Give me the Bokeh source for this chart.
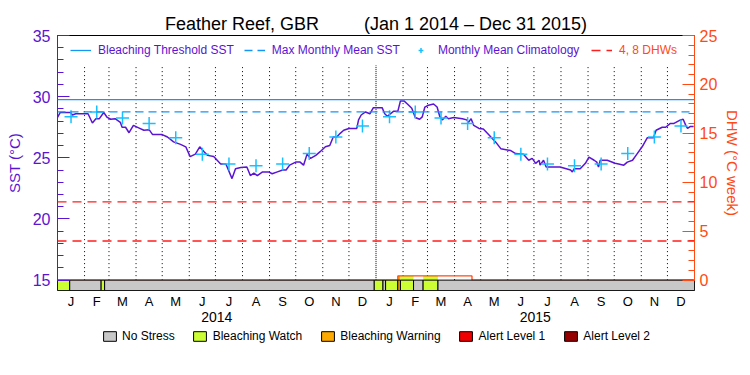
import numpy as np
import pandas as pd
from bokeh.plotting import figure
from bokeh.layouts import column
from bokeh.models import (Range1d, LinearAxis, FixedTicker, SingleIntervalTicker,
                          Span, Legend, LegendItem)
from bokeh.embed import file_html
from bokeh.resources import INLINE

# ---------------- data ----------------
sst_days = [0, 3, 15, 17, 21, 35, 40, 44, 48, 53, 57, 61, 66, 72, 74, 78, 82, 87, 93, 99,
            105, 109, 120, 126, 133, 141, 147, 152, 158, 163, 168, 172, 179, 187, 193, 200,
            204, 210, 217, 221, 225, 229, 235, 242, 246, 252, 258, 262, 266, 273, 278, 282,
            286, 290, 296, 301, 307, 312, 316, 320, 324, 328, 334, 343, 345, 348, 353, 358,
            362, 372, 375, 378, 385, 390, 393, 397, 401, 406, 410, 415, 418, 421, 425, 431,
            435, 438, 441, 445, 448, 454, 464, 469, 471, 474, 477, 483, 488, 494, 502, 508,
            519, 525, 534, 540, 544, 548, 552, 553, 557, 560, 576, 588, 590, 592, 599, 605,
            609, 615, 618, 620, 622, 630, 639, 643, 649, 653, 659, 664, 670, 676, 683, 686,
            693, 697, 702, 706, 714, 717, 720, 722, 725, 729]
sst_values = [28.3, 28.7, 28.7, 28.5, 28.6, 28.6, 27.85, 28.2, 28.2, 28.7, 28.3, 28.15, 28.2,
              27.9, 27.5, 27.5, 27.05, 27.65, 27.45, 27.25, 27.3, 26.9, 26.9, 26.7, 26.3, 26.1,
              25.9, 25.1, 25.3, 25.9, 25.5, 25.2, 25.1, 24.5, 24.5, 23.3, 24.1, 24.2, 24.25,
              23.55, 23.75, 23.55, 23.85, 23.85, 23.7, 23.85, 24.0, 24.0, 24.4, 24.65, 24.65,
              24.4, 25.3, 24.95, 25.2, 25.5, 25.9, 26.0, 26.7, 26.7, 27.0, 27.25, 27.4, 27.4,
              28.1, 28.5, 28.75, 28.6, 29.1, 29.1, 28.6, 28.4, 28.8, 28.8, 29.65, 29.65, 29.4,
              29.05, 28.3, 28.15, 28.35, 29.15, 29.3, 29.4, 29.15, 28.4, 28.1, 28.4, 28.2, 28.3,
              28.2, 28.1, 27.9, 28.2, 27.65, 27.4, 27.35, 26.9, 26.3, 25.75, 25.6, 25.35, 25.3,
              24.8, 24.95, 24.55, 24.8, 24.4, 24.8, 24.25, 24.25, 24.0, 23.85, 24.1, 24.1, 24.55,
              25.05, 24.8, 24.65, 24.25, 24.8, 24.8, 24.55, 24.5, 24.4, 24.65, 24.8, 25.3, 25.9,
              26.65, 26.65, 27.25, 27.5, 27.5, 27.8, 27.8, 28.1, 28.15, 27.65, 27.4, 27.55, 27.55]
clim_monthly = [28.35, 28.75, 28.25, 27.8, 26.65, 25.3, 24.5, 24.35, 24.5, 25.35, 26.7, 27.6]
mmm_sst = 28.75
bleaching_threshold = 29.75
dhw_thresholds = [4, 8]
dhw_days = [0, 390, 475, 729]
dhw_values = [0.0, 0.43, 0.0, 0.0]
stress_start = [0, 14, 50, 54, 363, 373, 376, 390, 393, 408, 419, 436]
stress_end = [14, 50, 54, 363, 373, 376, 390, 393, 408, 419, 436, 730]
stress_level = [1, 0, 1, 0, 1, 0, 1, 2, 1, 0, 1, 0]
stress_names = ["No Stress", "Bleaching Watch", "Bleaching Warning", "Alert Level 1", "Alert Level 2"]
stress_colors = ["#c8c8c8", "#ccff33", "#ffaa00", "#f00000", "#960000"]
month_letters = ["J", "F", "M", "A", "M", "J", "J", "A", "S", "O", "N", "D"]
year_labels = ["2014", "2015"]

# ---------------- styles ----------------
FONT = "Liberation Sans"
PURPLE = "#5a14d2"
ORANGE = "#ff4a14"
BLUE = "#1496f5"
CYAN = "#18c0ff"
RED = "#ff1e1e"
NAN1 = [np.nan]

base = pd.Timestamp("2014-01-01")
mstarts = pd.date_range("2014-01-01", "2016-01-01", freq="MS")
mdays = np.array([(d - base).days for d in mstarts], dtype=float)
mid_days = list((mdays[:-1] + mdays[1:]) / 2.0)
boundaries = list(mdays[1:-1])
ystarts = [(pd.Timestamp(f"{y}-01-01") - base).days for y in (2014, 2015, 2016)]
year_mid = [(ystarts[i] + ystarts[i + 1]) / 2.0 for i in range(2)]
year_boundary = float(ystarts[1])

DHW_BOTTOM = -1.06
SST_PER_DHW = 0.8
p = figure(width=750, height=328, output_backend="svg", toolbar_location=None,
           x_range=Range1d(0, 730), y_range=Range1d(15 + DHW_BOTTOM * SST_PER_DHW, 35),
           x_axis_location=None, y_axis_location=None,
           min_border_left=57, min_border_right=56, min_border_top=35, min_border_bottom=38)
p.extra_y_ranges = {"dhw": Range1d(DHW_BOTTOM, 25)}
p.xgrid.visible = False
p.ygrid.visible = False
p.outline_line_color = "black"
p.outline_line_width = 1
p.background_fill_color = "white"
p.border_fill_color = "white"

p.title.text = "Feather Reef, GBR" + "\u00a0" * 9 + "(Jan 1 2014 \u2013 Dec 31 2015)"
p.title.align = "center"
p.title.text_font = FONT
p.title.text_font_size = "18px"
p.title.text_font_style = "normal"
p.title.text_color = "black"
p.title.standoff = 4

# axes
yl = LinearAxis(bounds=(15, 35), ticker=SingleIntervalTicker(interval=5, num_minor_ticks=5),
                axis_label="SST (\u00b0C)")
yr = LinearAxis(y_range_name="dhw", bounds=(0, 25),
                ticker=SingleIntervalTicker(interval=5, num_minor_ticks=5),
                axis_label="DHW (\u00b0C week)")
for ax, col, so, lso in ((yl, PURPLE, 7, 7), (yr, ORANGE, 5, 4)):
    ax.axis_line_color = col
    ax.major_tick_line_color = col
    ax.minor_tick_line_color = col
    ax.major_tick_in = 12
    ax.major_tick_out = 0
    ax.minor_tick_in = 6
    ax.minor_tick_out = 0
    ax.major_label_text_color = col
    ax.major_label_text_font = FONT
    ax.major_label_text_font_size = "16px"
    ax.major_label_standoff = so
    ax.axis_label_text_color = col
    ax.axis_label_text_font = FONT
    ax.axis_label_text_font_size = "15px"
    ax.axis_label_text_font_style = "normal"
    ax.axis_label_standoff = lso
p.add_layout(yl, "left")
p.add_layout(yr, "right")

xm = LinearAxis(ticker=FixedTicker(ticks=mid_days),
                major_label_overrides={float(d): month_letters[i % 12] for i, d in enumerate(mid_days)})
xy = LinearAxis(ticker=FixedTicker(ticks=year_mid),
                major_label_overrides={float(d): year_labels[i] for i, d in enumerate(year_mid)})
for ax, fs, so in ((xm, "13px", 3), (xy, "14px", 0)):
    ax.axis_line_color = None
    ax.major_tick_line_color = None
    ax.minor_tick_line_color = None
    ax.major_tick_in = 0
    ax.major_tick_out = 0
    ax.minor_tick_in = 0
    ax.minor_tick_out = 0
    ax.major_label_text_font = FONT
    ax.major_label_text_font_size = fs
    ax.major_label_text_color = "black"
    ax.major_label_standoff = so
p.add_layout(xm, "below")
p.add_layout(xy, "below")

# month dotted lines
reg = [b for b in boundaries if b != year_boundary]
top_dot = 32.55
p.segment(x0=reg, y0=[15] * len(reg), x1=reg, y1=[top_dot] * len(reg),
          line_color="black", line_dash="1 3", line_width=1)
p.segment(x0=[year_boundary], y0=[15], x1=[year_boundary], y1=[top_dot],
          line_color="black", line_dash="1 1", line_width=1)

# reference lines
p.add_layout(Span(location=bleaching_threshold, dimension="width", line_color=BLUE, line_width=1.3))
p.add_layout(Span(location=mmm_sst, dimension="width", line_color=BLUE, line_width=1.3,
                  line_dash="8 5"))
for d in dhw_thresholds:
    p.add_layout(Span(location=d, dimension="width", y_range_name="dhw", line_color=RED,
                      line_width=1.3, line_dash="9 6"))

# SST and climatology
p.line(sst_days, sst_values, line_color=PURPLE, line_width=1.5)
clim_r = p.cross(x=mid_days, y=clim_monthly * 2, size=13, line_color=CYAN, line_width=1.5)

# fill above stress bar while DHW > 0
dhw_lo, dhw_hi, dhw_top = dhw_days[1], dhw_days[2], dhw_values[1]
fl, fr, fc = [], [], []
for s, e, lv in zip(stress_start, stress_end, stress_level):
    lo, hi = max(s, dhw_lo), min(e, dhw_hi)
    if lv > 0 and hi > lo:
        fl.append(lo); fr.append(hi); fc.append(stress_colors[lv])
p.quad(left=fl, right=fr, bottom=[0] * len(fl), top=[dhw_top] * len(fl), fill_color=fc,
       line_color=None, y_range_name="dhw")
p.step(dhw_days, dhw_values, mode="after", line_color=ORANGE, line_width=1.3, y_range_name="dhw")

# stress bar
p.quad(left=stress_start, right=stress_end, bottom=[DHW_BOTTOM] * len(stress_start),
       top=[0] * len(stress_start), fill_color=[stress_colors[l] for l in stress_level],
       line_color="black", line_width=1, y_range_name="dhw")

# top legends (legend-only renderers hold no visible data)
thr_r = p.line(NAN1, NAN1, line_color=BLUE, line_width=1.3)
mmm_r = p.line(NAN1, NAN1, line_color=BLUE, line_width=1.3, line_dash="8 5")
dhw_r = p.line(NAN1, NAN1, line_color=RED, line_width=1.3, line_dash="9 6")
lt1 = Legend(items=[LegendItem(label="Bleaching Threshold SST", renderers=[thr_r]),
                    LegendItem(label="Max Monthly Mean SST", renderers=[mmm_r]),
                    LegendItem(label="Monthly Mean Climatology", renderers=[clim_r])],
             location=(13, 233), label_text_color=PURPLE)
lt2 = Legend(items=[LegendItem(label="4, 8 DHWs", renderers=[dhw_r])],
             location=(534, 233), label_text_color=ORANGE)
for lg in (lt1, lt2):
    lg.orientation = "horizontal"
    lg.padding = 0
    lg.margin = 0
    lg.spacing = 10
    lg.glyph_width = 21
    lg.glyph_height = 12
    lg.label_height = 12
    lg.label_standoff = 7
    lg.border_line_color = None
    lg.background_fill_alpha = 0
    lg.label_text_font = FONT
    lg.label_text_font_size = "12px"
    p.add_layout(lg)

# bottom stress legend in its own strip
q = figure(width=750, height=47, output_backend="svg", toolbar_location=None,
           x_range=Range1d(0, 1), y_range=Range1d(0, 1),
           x_axis_location=None, y_axis_location=None,
           min_border_left=0, min_border_right=0, min_border_top=0, min_border_bottom=0)
q.xgrid.visible = False
q.ygrid.visible = False
q.outline_line_color = None
q.background_fill_color = "white"
q.border_fill_color = "white"
dummies = [q.quad(left=NAN1, right=NAN1, bottom=NAN1, top=NAN1, fill_color=c, line_color="black")
           for c in stress_colors]
lb = Legend(items=[LegendItem(label=n, renderers=[r]) for n, r in zip(stress_names, dummies)],
            orientation="horizontal", location="top_center", glyph_width=16, glyph_height=12,
            label_height=12, label_standoff=5, spacing=17, padding=0, margin=1,
            border_line_color=None, background_fill_alpha=0, label_text_font=FONT,
            label_text_font_size="12px", label_text_color="black")
q.add_layout(lb)

open("out.html", "w").write(file_html(column(p, q, spacing=0), INLINE))
